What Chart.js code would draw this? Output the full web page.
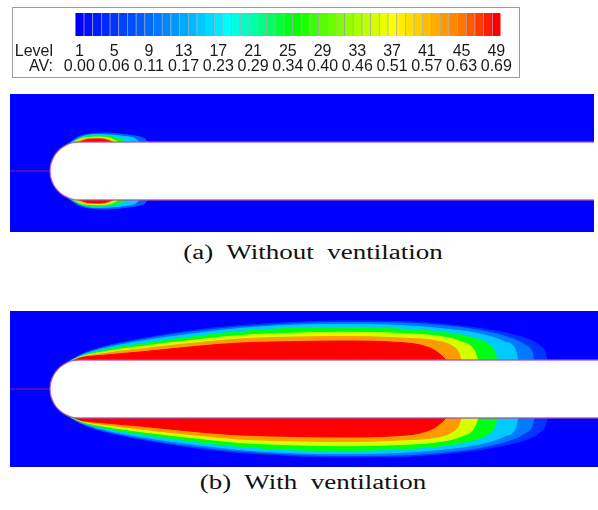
<!DOCTYPE html>
<html lang="en">
<head>
<meta charset="UTF-8">
<title>Air volume fraction around the body</title>
<script src="https://cdn.jsdelivr.net/npm/chart.js"></script>
<style>
  body {
    margin: 0;
    width: 598px;
    height: 510px;
    position: relative;
    overflow: hidden;
    background: #fff;
  }
  #legendBox {
    position: absolute;
    left: 12px;
    top: 7px;
    width: 506px;
    height: 69px;
    border: 1px solid #9c9c9c;
  }
  canvas {
    position: absolute;
    display: block;
  }
  .caption {
    position: absolute;
    left: 313px;
    font-family: 'Liberation Serif', 'Times New Roman', serif;
    font-size: 20px;
    line-height: 20px;
    white-space: pre;
    color: #111;
    transform: translateX(-50%) scaleX(1.35);
  }
</style>
</head>
<body>
<div id="legendBox"></div>
<canvas id="scale" width="508" height="71" style="left:12px;top:7px"></canvas>
<canvas id="panelA" width="584" height="138" style="left:10px;top:94px"></canvas>
<div class="caption" style="top:242px">(a)  Without  ventilation</div>
<canvas id="panelB" width="588" height="156" style="left:10px;top:311px"></canvas>
<div class="caption" style="top:472px">(b)  With  ventilation</div>

<script>
// colour scale
const cellLevels = [1, 2, 3, 4, 5, 6, 7, 8, 9, 10, 11, 12, 13, 14, 15, 16, 17, 18, 19, 20, 21, 22, 23, 24, 25,
  26, 27, 28, 29, 30, 31, 32, 33, 34, 35, 36, 37, 38, 39, 40, 41, 42, 43, 44, 45, 46, 47, 48, 49];
const levelTicks = ['1', '5', '9', '13', '17', '21', '25', '29', '33', '37', '41', '45', '49'];
const avTicks = ['0.00', '0.06', '0.11', '0.17', '0.23', '0.29', '0.34', '0.40', '0.46', '0.51', '0.57', '0.63', '0.69'];

// body: radius and hemispherical nose outline (mm, nose tip at x = 0)
const bodyRadius = 29;
const bodyEnd = 600;
const noseX = [0, 0.25, 0.99, 3.89, 8.49, 14.5, 21.49, 29];
const noseY = [0, 3.79, 7.51, 14.5, 20.51, 25.11, 28.01, 29];

// (a) without ventilation: [x, thickness above the wall] per contour level
const plainLevels = [8, 15, 25, 35, 43, 49];
const plainL8 = [[18, -2.2], [28, 5], [40, 8], [55, 9], [70, 8], [82, 6.5], [90, 5], [95, 3], [97, 0]];
const plainL15 = [[19, -1.8], [30, 4.5], [45, 7.5], [60, 7], [75, 5.5], [85, 3.5], [89, 0]];
const plainL25 = [[20, -1.5], [32, 4.5], [48, 6], [62, 5], [71, 3], [76, 0]];
const plainL35 = [[22, -0.9], [34, 4], [52, 4.8], [62, 3], [68, 0]];
const plainL43 = [[26, -0.3], [36, 3.2], [52, 3.5], [60, 2], [64, 0]];
const plainL49 = [[30, 0], [38, 2.5], [50, 3], [58, 1.5], [62, 0]];

// (b) with ventilation
const ventLevels = [5, 10, 15, 25, 35, 43, 49];
const ventL5 = [[16, -3.1], [30, 5], [50, 12.5], [90, 21], [150, 30.5], [190, 34.5], [250, 38], [290, 39], [350, 38.5],
  [390, 36], [430, 31.5], [460, 26], [480, 20], [490, 14], [495, 8], [497, 0]];
const ventL10 = [[18, -2.2], [30, 4.5], [50, 11.5], [90, 20], [150, 29], [190, 33], [250, 36.5], [290, 37.5], [350, 37],
  [390, 34.5], [430, 29.5], [460, 22], [475, 15], [482, 8], [484, 0]];
const ventL15 = [[19, -1.8], [30, 4], [50, 10.5], [90, 18.5], [150, 27], [190, 31.5], [250, 35], [290, 35.5], [350, 34.5],
  [390, 31.5], [430, 26], [455, 18], [465, 11], [468, 0]];
const ventL25 = [[20, -1.5], [30, 3.5], [50, 9], [90, 16], [150, 24], [190, 28.5], [250, 32], [290, 32.5], [350, 31],
  [390, 28], [420, 23], [438, 16], [445, 8], [447, 0]];
const ventL35 = [[21, -1.2], [30, 3], [50, 7.5], [90, 13.5], [150, 20.5], [190, 24.5], [250, 27], [290, 27.7], [350, 26.5],
  [390, 23.5], [412, 18], [424, 10], [428, 0]];
const ventL43 = [[22, -0.9], [30, 2.5], [50, 6], [90, 11], [150, 17.5], [190, 21], [250, 23], [290, 23.5], [350, 22],
  [390, 18.5], [402, 14], [409, 7], [411, 0]];
const ventL49 = [[24, -0.5], [30, 2], [50, 4.5], [90, 8], [150, 14], [190, 17], [250, 18.5], [290, 19], [350, 17.5],
  [370, 15], [384, 10], [392, 4], [396, 0]];

// rainbow used by the contour legend (hue anchors per level)
const hueLevels = [1, 9, 17, 21, 25, 29, 33, 37, 41, 45, 49];
const hueValues = [240, 215, 185, 160, 125, 100, 80, 60, 45, 28, 0];

function levelColour(lv) {
  let k = 0;
  while (k < hueLevels.length - 2 && lv > hueLevels[k + 1]) k++;
  const f = (lv - hueLevels[k]) / (hueLevels[k + 1] - hueLevels[k]);
  const h = hueValues[k] + f * (hueValues[k + 1] - hueValues[k]);
  return `hsl(${h.toFixed(1)}, 100%, 50%)`;
}

Chart.defaults.font.family = "'Liberation Sans', Arial, sans-serif";

const rowTitles = {
  id: 'rowTitles',
  afterDraw(chart) {
    const ctx = chart.ctx;
    ctx.save();
    ctx.fillStyle = '#1a1a1a';
    ctx.font = "16px 'Liberation Sans', Arial, sans-serif";
    ctx.textAlign = 'right';
    ctx.textBaseline = 'middle';
    ctx.fillText('Level', 41, 44.5);
    ctx.fillText('AV:', 41, 59.5);
    ctx.restore();
  }
};

new Chart(document.getElementById('scale'), {
  type: 'bar',
  data: {
    labels: cellLevels.map(String),
    datasets: [{
      data: cellLevels.map(() => 1),
      backgroundColor: cellLevels.map(levelColour),
      borderColor: 'rgba(20, 20, 70, 0.35)',
      borderWidth: { left: 1, right: 0, top: 0, bottom: 0 },
      borderSkipped: false,
      categoryPercentage: 1,
      barPercentage: 1
    }]
  },
  options: {
    responsive: false,
    animation: false,
    devicePixelRatio: 1,
    layout: { padding: { left: 63, right: 8, top: 6, bottom: 0 } },
    plugins: { legend: { display: false }, tooltip: { enabled: false } },
    scales: {
      x: {
        grid: { display: false, drawTicks: false },
        border: { display: false },
        afterFit(scale) { scale.height = 42; },
        ticks: {
          autoSkip: false,
          maxRotation: 0,
          minRotation: 0,
          padding: 8,
          color: '#1a1a1a',
          font: { size: 16, lineHeight: 0.94 },
          callback(value, index) {
            const k = levelTicks.indexOf(String(cellLevels[index]));
            return k >= 0 ? [levelTicks[k], avTicks[k]] : '';
          }
        }
      },
      y: { display: false, min: 0, max: 1 }
    }
  },
  plugins: [rowTitles]
});

const bluePlane = {
  id: 'bluePlane',
  beforeDraw(chart) {
    const { ctx, chartArea: a } = chart;
    ctx.save();
    ctx.fillStyle = '#0000ff';
    ctx.fillRect(a.left, a.top, a.width, a.height);
    ctx.restore();
  }
};

function contourPanel(id, xMin, xMax, yMin, yMax, bands, levels) {
  const datasets = [];
  bands.forEach((band, k) => {
    const colour = levelColour(levels[k]);
    [1, -1].forEach(side => {
      datasets.push({
        data: band.map(([x, t]) => ({ x, y: side * (bodyRadius + t) })),
        borderColor: colour,
        backgroundColor: colour,
        borderWidth: 1,
        fill: 'origin',
        order: 30 - k
      });
    });
  });
  [1, -1].forEach(side => {
    const outline = noseX.map((x, i) => ({ x, y: side * noseY[i] }));
    outline.push({ x: bodyEnd, y: side * bodyRadius });
    datasets.push({
      data: outline,
      borderColor: 'rgba(165, 80, 175, 0.85)',
      backgroundColor: '#ffffff',
      borderWidth: 1.3,
      fill: 'origin',
      order: 2
    });
  });
  datasets.push({
    data: [{ x: xMin, y: 0 }, { x: 0, y: 0 }],
    borderColor: 'rgba(200, 40, 70, 0.7)',
    borderWidth: 1,
    fill: false,
    order: 1
  });

  new Chart(document.getElementById(id), {
    type: 'line',
    data: { datasets },
    options: {
      responsive: false,
      animation: false,
      devicePixelRatio: 1,
      layout: { padding: 0 },
      elements: {
        point: { radius: 0 },
        line: { cubicInterpolationMode: 'monotone' }
      },
      plugins: { legend: { display: false }, tooltip: { enabled: false } },
      scales: {
        x: { type: 'linear', display: false, min: xMin, max: xMax },
        y: { type: 'linear', display: false, min: yMin, max: yMax }
      }
    },
    plugins: [bluePlane]
  });
}

contourPanel('panelA', -40, 544, -61, 77,
  [plainL8, plainL15, plainL25, plainL35, plainL43, plainL49], plainLevels);
contourPanel('panelB', -40, 548, -78, 78,
  [ventL5, ventL10, ventL15, ventL25, ventL35, ventL43, ventL49], ventLevels);
</script>
</body>
</html>
